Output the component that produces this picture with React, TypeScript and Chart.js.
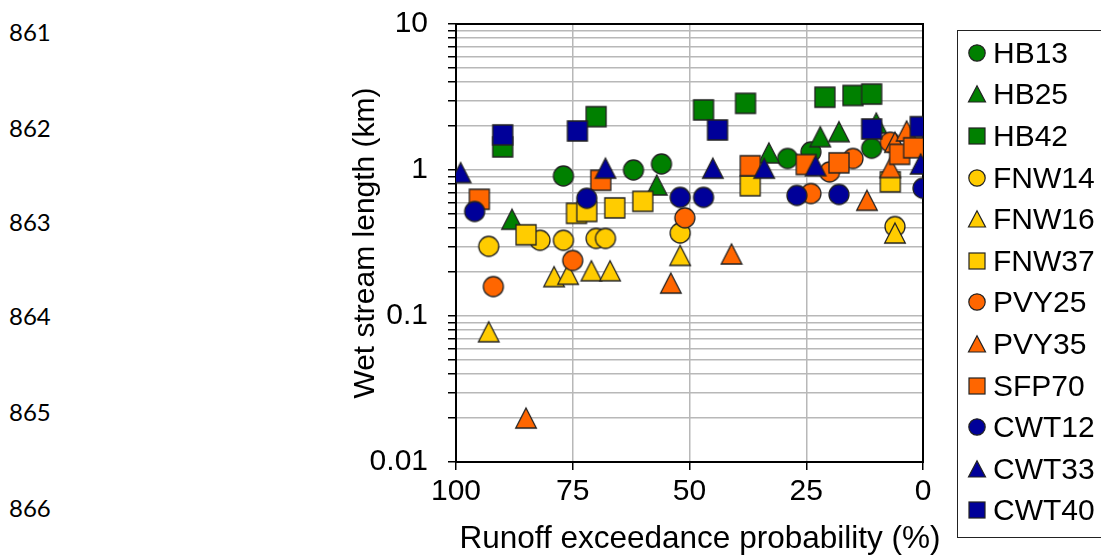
import React, { useEffect, useRef } from 'react';
import { Chart, registerables } from 'chart.js';

Chart.register(...registerables);

// ---------- data ----------
const SERIES_NAMES = ['HB13', 'HB25', 'HB42', 'FNW14', 'FNW16', 'FNW37', 'PVY25', 'PVY35', 'SFP70', 'CWT12', 'CWT33', 'CWT40'];
const SERIES_COLORS = ['#008000', '#008000', '#008000', '#FFCC00', '#FFCC00', '#FFCC00', '#FF6600', '#FF6600', '#FF6600', '#000099', '#000099', '#000099'];
const SERIES_SHAPES = ['circle', 'triangle', 'square', 'circle', 'triangle', 'square', 'circle', 'triangle', 'square', 'circle', 'triangle', 'square'];

const HB13_X = [77, 62, 56, 29, 24, 11];
const HB13_Y = [0.91, 1.0, 1.1, 1.2, 1.33, 1.41];
const HB25_X = [88, 57, 33, 22, 18, 10];
const HB25_Y = [0.46, 0.79, 1.31, 1.69, 1.83, 2.1];
const HB42_X = [90, 70, 47, 38, 21, 15, 11];
const HB42_Y = [1.44, 2.32, 2.58, 2.86, 3.15, 3.24, 3.31];
const FNW14_X = [93, 82, 77, 70, 68, 52, 6];
const FNW14_Y = [0.30, 0.33, 0.33, 0.34, 0.34, 0.37, 0.41];
const FNW16_X = [93, 79, 76, 71, 67, 52, 6];
const FNW16_Y = [0.078, 0.186, 0.193, 0.204, 0.204, 0.26, 0.37];
const FNW37_X = [85, 74.2, 72, 66, 60, 37, 7];
const FNW37_Y = [0.36, 0.505, 0.52, 0.55, 0.61, 0.78, 0.83];
const PVY25_X = [92, 75, 51, 24, 20, 15, 7];
const PVY25_Y = [0.159, 0.24, 0.47, 0.69, 0.97, 1.2, 1.55];
const PVY35_X = [85, 54, 41, 12, 7, 6, 3.5];
const PVY35_Y = [0.020, 0.168, 0.266, 0.62, 1.04, 1.55, 1.85];
const SFP70_X = [95, 69, 37, 25, 18, 5, 2];
const SFP70_Y = [0.63, 0.85, 1.07, 1.09, 1.12, 1.28, 1.42];
const CWT12_X = [96, 72, 52, 47, 27, 18, 0];
const CWT12_Y = [0.52, 0.64, 0.65, 0.65, 0.67, 0.68, 0.75];
const CWT33_X = [99, 68, 45, 34, 23, 0.5];
const CWT33_Y = [0.96, 1.03, 1.03, 1.03, 1.07, 1.1];
const CWT40_X = [90, 74, 44, 11, 0.6];
const CWT40_Y = [1.74, 1.85, 1.88, 1.91, 1.98];

const SERIES_X = [HB13_X, HB25_X, HB42_X, FNW14_X, FNW16_X, FNW37_X, PVY25_X, PVY35_X, SFP70_X, CWT12_X, CWT33_X, CWT40_X];
const SERIES_Y = [HB13_Y, HB25_Y, HB42_Y, FNW14_Y, FNW16_Y, FNW37_Y, PVY25_Y, PVY35_Y, SFP70_Y, CWT12_Y, CWT33_Y, CWT40_Y];

const X_TICKS = [0, 25, 50, 75, 100];
const Y_TICKS = [
  0.01, 0.02, 0.03, 0.04, 0.05, 0.06, 0.07, 0.08, 0.09,
  0.1, 0.2, 0.3, 0.4, 0.5, 0.6, 0.7, 0.8, 0.9,
  1, 2, 3, 4, 5, 6, 7, 8, 9,
  10,
];
const Y_LABELS = [0.01, 0.1, 1, 10];
const LINE_NUMBERS = ['861', '862', '863', '864', '865', '866'];
const X_TITLE = 'Runoff exceedance probability (%)';
const Y_TITLE = 'Wet stream length (km)';

const FONT = 'Liberation Sans, Arial, sans-serif';
const EDGE = '#222222';

function makeMarker(shape: string, color: string): HTMLCanvasElement {
  const c = document.createElement('canvas');
  c.width = 24;
  c.height = 24;
  const ctx = c.getContext('2d')!;
  ctx.fillStyle = color;
  ctx.strokeStyle = EDGE;
  ctx.lineWidth = 1.3;
  ctx.beginPath();
  if (shape === 'circle') {
    ctx.arc(12, 12, 10, 0, Math.PI * 2);
  } else if (shape === 'square') {
    ctx.rect(2, 2, 20, 20);
  } else {
    ctx.moveTo(12, 2);
    ctx.lineTo(22.3, 22);
    ctx.lineTo(1.7, 22);
    ctx.closePath();
  }
  ctx.fill();
  ctx.stroke();
  return c;
}

function LegendMarker({ shape, color }: { shape: string; color: string }) {
  return (
    <svg width={20} height={20} viewBox="0 0 20 20" style={{ display: 'block' }}>
      {shape === 'circle' && <circle cx={10} cy={10} r={8.2} fill={color} stroke={EDGE} strokeWidth={1.2} />}
      {shape === 'square' && <rect x={2} y={2} width={16} height={16} fill={color} stroke={EDGE} strokeWidth={1.2} />}
      {shape === 'triangle' && <polygon points="10,1.8 18.5,18 1.5,18" fill={color} stroke={EDGE} strokeWidth={1.2} />}
    </svg>
  );
}

export default function App() {
  const canvasRef = useRef<HTMLCanvasElement | null>(null);

  useEffect(() => {
    document.body.style.margin = '0';
    const canvas = canvasRef.current;
    if (!canvas) return;

    const frame = {
      id: 'frame',
      beforeDatasetsDraw(chart: any) {
        const { ctx, chartArea } = chart;
        ctx.save();
        ctx.strokeStyle = '#000';
        ctx.lineWidth = 2;
        ctx.strokeRect(chartArea.left, chartArea.top, chartArea.right - chartArea.left, chartArea.bottom - chartArea.top);
        ctx.restore();
      },
    };

    const datasets = SERIES_NAMES.map((name, i) => ({
      label: name,
      data: SERIES_X[i].map((x, j) => ({ x, y: SERIES_Y[i][j] })),
      pointStyle: makeMarker(SERIES_SHAPES[i], SERIES_COLORS[i]),
      pointRadius: 11,
      backgroundColor: SERIES_COLORS[i],
      borderColor: EDGE,
      order: SERIES_NAMES.length - i,
    }));

    const chart = new Chart(canvas, {
      type: 'scatter',
      data: { datasets },
      options: {
        animation: false,
        responsive: false,
        maintainAspectRatio: false,
        events: [],
        layout: { padding: { left: 340, right: 178, top: 24, bottom: 0 } },
        plugins: { legend: { display: false }, tooltip: { enabled: false } },
        scales: {
          x: {
            type: 'linear',
            min: 0,
            max: 100,
            reverse: true,
            afterBuildTicks: (s: any) => {
              s.ticks = X_TICKS.map((v) => ({ value: v }));
            },
            afterFit: (s: any) => {
              s.height = 94;
              s.paddingLeft = 0;
              s.paddingRight = 0;
            },
            ticks: {
              autoSkip: false,
              maxRotation: 0,
              color: '#000',
              padding: 4,
              font: { family: FONT, size: 30 },
            },
            grid: {
              color: (c: any) => (c.tick && (c.tick.value === 0 || c.tick.value === 100) ? 'rgba(0,0,0,0)' : '#b8b8b8'),
              lineWidth: 1.5,
              tickColor: '#000',
              tickLength: 8,
              tickWidth: 1.5,
            },
            border: { display: false },
            title: { display: false, text: X_TITLE },
          },
          y: {
            type: 'logarithmic',
            min: 0.01,
            max: 10,
            afterBuildTicks: (s: any) => {
              s.ticks = Y_TICKS.map((v) => ({ value: v }));
            },
            afterFit: (s: any) => {
              s.width = 116;
              s.paddingTop = 0;
              s.paddingBottom = 0;
            },
            ticks: {
              autoSkip: false,
              color: '#000',
              padding: 20,
              font: { family: FONT, size: 30 },
              callback: (v: any) => (Y_LABELS.includes(v) ? String(v) : ''),
            },
            grid: {
              color: '#b8b8b8',
              lineWidth: 1.5,
              tickColor: '#000',
              tickLength: 8,
              tickWidth: 1.5,
            },
            border: { display: false },
            title: {
              display: true,
              text: Y_TITLE,
              color: '#000',
              font: { family: FONT, size: 30 },
              padding: { top: 8, bottom: 0 },
            },
          },
        },
      },
      plugins: [frame],
    } as any);

    return () => chart.destroy();
  }, []);

  const rowH = 41.6;

  return (
    <div style={{ position: 'absolute', left: 0, top: 0, width: 1101, height: 556, overflow: 'hidden', background: '#fff' }}>
      {LINE_NUMBERS.map((n, i) => (
        <div
          key={n}
          style={{
            position: 'absolute',
            left: 9,
            top: [32, 128, 222, 316, 412, 508][i] - 15,
            height: 30,
            lineHeight: '30px',
            fontFamily: 'Lato, "Open Sans", sans-serif',
            fontSize: 24,
            color: '#000',
          }}
        >
          {n}
        </div>
      ))}
      <canvas ref={canvasRef} width={1101} height={556} style={{ position: 'absolute', left: 0, top: 0 }} />
      <div
        style={{
          position: 'absolute',
          left: 400,
          width: 600,
          top: 537 - 20,
          height: 40,
          lineHeight: '40px',
          textAlign: 'center',
          fontFamily: FONT,
          fontSize: 31.5,
          color: '#000',
          whiteSpace: 'nowrap',
        }}
      >
        {X_TITLE}
      </div>
      <div
        style={{
          position: 'absolute',
          left: 957,
          top: 30,
          width: 160,
          height: 508,
          border: '1.5px solid #222',
          boxSizing: 'border-box',
          paddingTop: 1,
          background: 'transparent',
        }}
      >
        {SERIES_NAMES.map((name, i) => (
          <div key={name} style={{ display: 'flex', alignItems: 'center', height: rowH }}>
            <div style={{ marginLeft: 9, width: 20 }}>
              <LegendMarker shape={SERIES_SHAPES[i]} color={SERIES_COLORS[i]} />
            </div>
            <div style={{ marginLeft: 6, fontFamily: FONT, fontSize: 30, color: '#000', lineHeight: '34px' }}>{name}</div>
          </div>
        ))}
      </div>
    </div>
  );
}
